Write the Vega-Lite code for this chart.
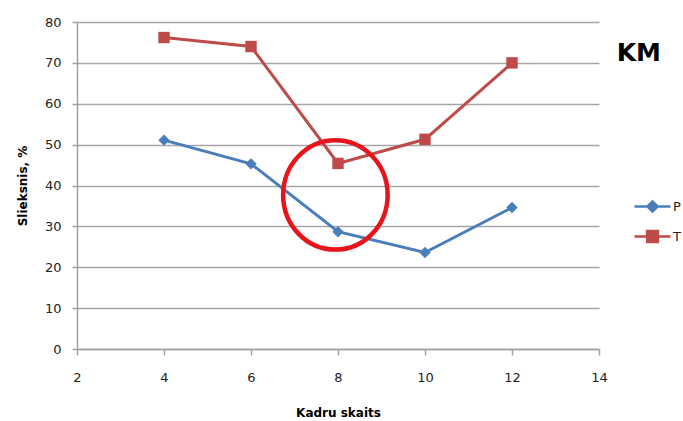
{
  "$schema": "https://vega.github.io/schema/vega-lite/v6.json",
  "autosize": "none",
  "width": 522,
  "height": 327,
  "padding": {"left": 77, "top": 22, "right": 84, "bottom": 72},
  "background": "white",
  "config": {
    "view": {"stroke": null},
    "font": "DejaVu Sans",
    "axis": {
      "labelFont": "DejaVu Sans",
      "labelFontSize": 13,
      "labelColor": "#222222",
      "titleFont": "DejaVu Sans",
      "titleFontSize": 12,
      "titleFontWeight": "bold",
      "titleColor": "#000000",
      "domainColor": "#a0a0a0",
      "tickColor": "#a0a0a0",
      "gridColor": "#a6a6a6",
      "domainWidth": 1.5,
      "tickWidth": 1.5,
      "gridWidth": 1.5
    },
    "legend": {
      "title": null,
      "orient": "none",
      "legendX": 568,
      "legendY": 177,
      "labelFont": "DejaVu Sans",
      "labelFontSize": 13,
      "labelColor": "#222222",
      "labelOffset": 13,
      "rowPadding": 9,
      "symbolSize": 144,
      "symbolStrokeWidth": 2.5
    }
  },
  "title": {
    "text": "KM",
    "orient": "top",
    "anchor": "end",
    "frame": "group",
    "offset": 0,
    "dx": 62,
    "dy": 70,
    "baseline": "alphabetic",
    "font": "DejaVu Sans",
    "fontSize": 25,
    "fontWeight": "bold",
    "color": "#000000"
  },
  "layer": [
    {
      "data": {
        "values": [
          {"kadri": 4, "value": 51.1, "series": "P"},
          {"kadri": 6, "value": 45.3, "series": "P"},
          {"kadri": 8, "value": 28.7, "series": "P"},
          {"kadri": 10, "value": 23.6, "series": "P"},
          {"kadri": 12, "value": 34.6, "series": "P"},
          {"kadri": 4, "value": 76.2, "series": "T"},
          {"kadri": 6, "value": 74.0, "series": "T"},
          {"kadri": 8, "value": 45.4, "series": "T"},
          {"kadri": 10, "value": 51.3, "series": "T"},
          {"kadri": 12, "value": 70.0, "series": "T"}
        ]
      },
      "layer": [
        {
          "mark": {"type": "line", "strokeWidth": 3},
          "encoding": {
            "x": {
              "field": "kadri",
              "type": "quantitative",
              "scale": {"domain": [2, 14], "nice": false, "zero": false},
              "axis": {
                "title": "Kadru skaits",
                "values": [2, 4, 6, 8, 10, 12, 14],
                "grid": false,
                "tickSize": 6,
                "labelFlush": false,
                "labelPadding": 16,
                "titlePadding": 23
              }
            },
            "y": {
              "field": "value",
              "type": "quantitative",
              "scale": {"domain": [0, 80], "nice": false},
              "axis": {
                "title": "Slieksnis, %",
                "values": [0, 10, 20, 30, 40, 50, 60, 70, 80],
                "grid": true,
                "tickSize": 5,
                "labelFlush": false,
                "labelPadding": 11,
                "titlePadding": 15
              }
            },
            "color": {
              "field": "series",
              "type": "nominal",
              "scale": {"domain": ["P", "T"], "range": ["#4a7ebb", "#be4b48"]}
            }
          }
        },
        {
          "mark": {"type": "point", "filled": true, "opacity": 1, "size": 130},
          "encoding": {
            "x": {"field": "kadri", "type": "quantitative"},
            "y": {"field": "value", "type": "quantitative"},
            "color": {
              "field": "series",
              "type": "nominal",
              "scale": {"domain": ["P", "T"], "range": ["#4a7ebb", "#be4b48"]}
            },
            "shape": {
              "condition": {"test": "datum.series === 'P'", "value": "diamond"},
              "value": "square"
            }
          }
        },
        {
          "transform": [{"filter": "datum.kadri < 0"}],
          "mark": {"type": "point", "filled": true, "opacity": 1, "strokeWidth": 2.5},
          "encoding": {
            "x": {"field": "kadri", "type": "quantitative"},
            "y": {"field": "value", "type": "quantitative"},
            "color": {
              "field": "series",
              "type": "nominal",
              "scale": {"domain": ["P", "T"], "range": ["#4a7ebb", "#be4b48"]}
            },
            "stroke": {
              "field": "series",
              "type": "nominal",
              "scale": {"domain": ["P", "T"], "range": ["#4a7ebb", "#be4b48"]}
            },
            "shape": {
              "field": "series",
              "type": "nominal",
              "scale": {"domain": ["P", "T"], "range": ["M-3,0H-0.85L0,-0.85L0.85,0H3M0.85,0L0,0.85L-0.85,0Z", "M-3,0H-0.9V-0.9H0.9V0H3M0.9,0V0.9H-0.9V0Z"]}
            }
          }
        }
      ]
    },
    {
      "data": {"values": [{"kadri": 7.94, "value": 37.7}]},
      "mark": {
        "type": "point",
        "filled": false,
        "opacity": 1,
        "shape": "M-1,0A1,1.047 0 1,0 1,0A1,1.047 0 1,0 -1,0Z",
        "size": 10920,
        "stroke": "#e8141c",
        "strokeWidth": 4.5
      },
      "encoding": {
        "x": {"field": "kadri", "type": "quantitative"},
        "y": {"field": "value", "type": "quantitative"}
      }
    }
  ]
}
